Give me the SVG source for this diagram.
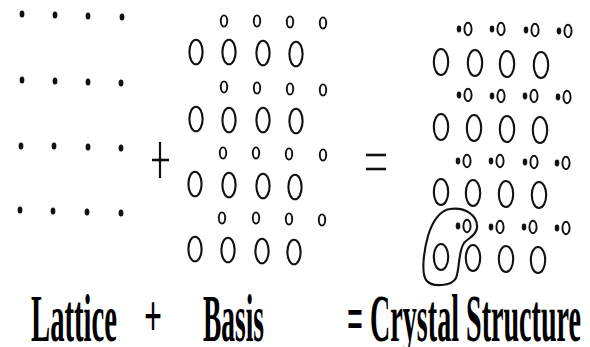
<svg xmlns="http://www.w3.org/2000/svg" xmlns:xlink="http://www.w3.org/1999/xlink" width="590" height="347" viewBox="0 0 590 347">
<style>
.ring{fill:none;stroke:#111;stroke-width:2.1}
.sring{fill:none;stroke:#111;stroke-width:1.9}
.dot{fill:#111}
.op{stroke:#111;stroke-width:2.2;fill:none}
.lbl{font-family:"Liberation Serif","Times New Roman",serif;font-weight:bold;font-size:68px;fill:#000}
</style>
<defs>
<ellipse id="dot" class="dot" cx="0" cy="0" rx="2.4" ry="3.5"/>
<ellipse id="big" class="ring" cx="0" cy="0" rx="6.6" ry="12.3"/>
<ellipse id="small" class="sring" cx="0" cy="0" rx="3.2" ry="5.6"/>
<ellipse id="cbig" class="ring" cx="0" cy="0" rx="7.2" ry="13"/>
<g id="pair"><ellipse class="dot" cx="-9" cy="0" rx="2.3" ry="3.4"/><ellipse class="sring" cx="0" cy="0" rx="3.6" ry="6.2"/></g>
</defs>
<rect width="590" height="347" fill="#fff"/>

<g id="lattice">
<use href="#dot" x="22" y="14"/><use href="#dot" x="55" y="15"/><use href="#dot" x="88" y="16"/><use href="#dot" x="122" y="17"/>
<use href="#dot" x="22" y="80"/><use href="#dot" x="55" y="81"/><use href="#dot" x="88" y="82"/><use href="#dot" x="121" y="83"/>
<use href="#dot" x="21" y="146"/><use href="#dot" x="54" y="146"/><use href="#dot" x="88" y="147"/><use href="#dot" x="121" y="148"/>
<use href="#dot" x="20" y="210"/><use href="#dot" x="53" y="211"/><use href="#dot" x="87" y="212"/><use href="#dot" x="121" y="213"/>
</g>

<g id="plus-sign">
<line class="op" x1="160" y1="142" x2="160" y2="178"/>
<line class="op" x1="152" y1="160" x2="169" y2="160" style="stroke-width:2.6"/>
</g>

<g id="basis">
<use href="#small" x="224" y="21"/><use href="#small" x="257" y="21"/><use href="#small" x="290" y="22"/><use href="#small" x="323" y="23"/>
<use href="#big" x="196" y="52"/><use href="#big" x="229" y="52"/><use href="#big" x="263" y="53"/><use href="#big" x="296" y="54"/>
<use href="#small" x="224" y="87"/><use href="#small" x="257" y="88"/><use href="#small" x="290" y="89"/><use href="#small" x="323" y="90"/>
<use href="#big" x="196" y="119"/><use href="#big" x="229" y="120"/><use href="#big" x="263" y="120"/><use href="#big" x="296" y="121"/>
<use href="#small" x="223" y="153"/><use href="#small" x="256" y="153"/><use href="#small" x="289" y="154"/><use href="#small" x="323" y="155"/>
<use href="#big" x="195" y="184"/><use href="#big" x="229" y="185"/><use href="#big" x="263" y="186"/><use href="#big" x="295" y="187"/>
<use href="#small" x="222" y="218"/><use href="#small" x="256" y="218"/><use href="#small" x="289" y="219"/><use href="#small" x="322" y="220"/>
<use href="#big" x="195" y="249"/><use href="#big" x="228" y="250"/><use href="#big" x="262" y="251"/><use href="#big" x="294" y="252"/>
</g>

<g id="equals-sign">
<line class="op" x1="366" y1="155" x2="386" y2="155" style="stroke-width:2.6"/>
<line class="op" x1="366" y1="169" x2="386" y2="169" style="stroke-width:2.6"/>
</g>

<g id="crystal">
<use href="#pair" x="468" y="29"/><use href="#pair" x="501" y="29"/><use href="#pair" x="535" y="30"/><use href="#pair" x="568" y="31"/>
<use href="#cbig" x="441" y="62"/><use href="#cbig" x="475" y="63"/><use href="#cbig" x="507" y="64"/><use href="#cbig" x="541" y="65"/>
<use href="#pair" x="468" y="95"/><use href="#pair" x="501" y="96"/><use href="#pair" x="534" y="96"/><use href="#pair" x="567" y="97"/>
<use href="#cbig" x="441" y="127"/><use href="#cbig" x="474" y="128"/><use href="#cbig" x="507" y="129"/><use href="#cbig" x="540" y="130"/>
<use href="#pair" x="467" y="161"/><use href="#pair" x="500" y="161"/><use href="#pair" x="534" y="162"/><use href="#pair" x="566" y="163"/>
<use href="#cbig" x="441" y="192"/><use href="#cbig" x="473" y="193"/><use href="#cbig" x="506" y="194"/><use href="#cbig" x="539" y="195"/>
<use href="#pair" x="467" y="226"/><use href="#pair" x="500" y="227"/><use href="#pair" x="533" y="227"/><use href="#pair" x="566" y="228"/>
<use href="#cbig" x="441" y="257"/><use href="#cbig" x="473" y="258"/><use href="#cbig" x="506" y="259"/><use href="#cbig" x="538" y="260"/>
</g>

<g id="basis-loop">
<path class="ring" d="M 450 209 C 465 207, 478 215, 477 228 C 476 236, 468 238, 464 243 C 458 252, 460 268, 456 278 C 452 286, 432 288, 426 280 C 421 272, 424 250, 428 236 C 432 222, 440 210, 450 209 Z"/>
</g>

<g id="labels">
<text class="lbl" transform="translate(31,341) scale(0.42,1)" textLength="204.8" lengthAdjust="spacingAndGlyphs">Lattice</text>
<text class="lbl" transform="translate(144,336) scale(0.53,1)" textLength="34" lengthAdjust="spacingAndGlyphs" style="font-size:60px">+</text>
<text class="lbl" transform="translate(203,341) scale(0.404,1)" textLength="151" lengthAdjust="spacingAndGlyphs">Basis</text>
<text class="lbl" transform="translate(347,341) scale(0.412,1)" textLength="568" lengthAdjust="spacingAndGlyphs">= Crystal Structure</text>
</g>
</svg>
